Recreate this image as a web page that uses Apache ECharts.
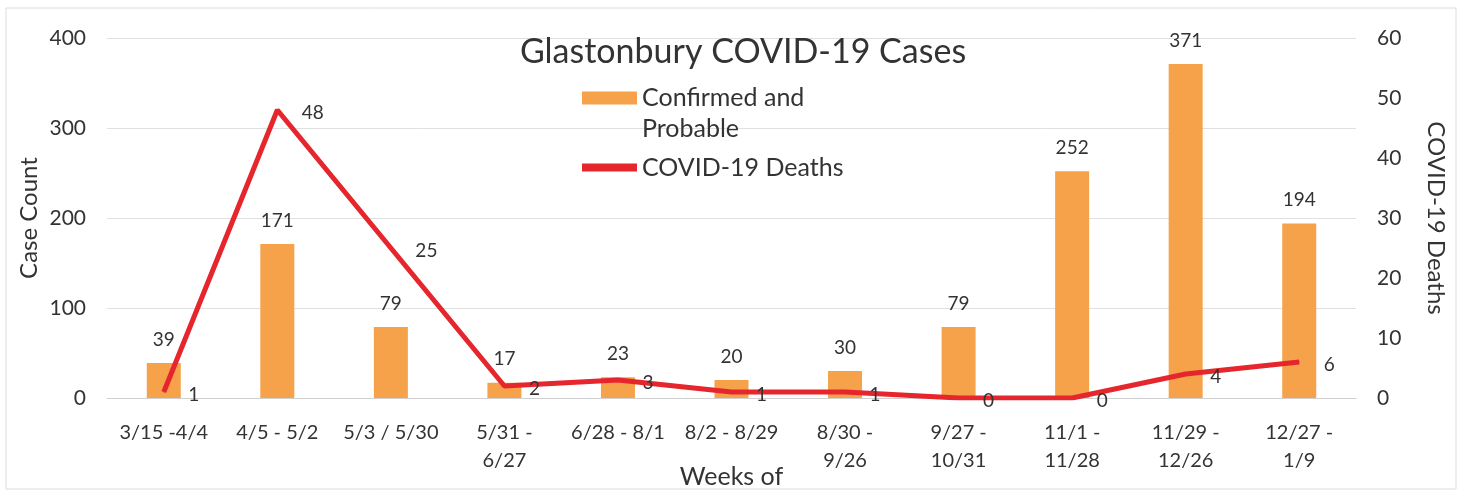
<!DOCTYPE html>
<html><head><meta charset="utf-8">
<script src="https://cdn.jsdelivr.net/npm/echarts@6/dist/echarts.min.js"></script>
<style>html,body{margin:0;padding:0;background:#fff}#c{width:1463px;height:494px}</style>
</head><body><div id="c"></div>
<script>
const categories = ["3/15 -4/4","4/5 - 5/2","5/3 / 5/30","5/31 -\n6/27","6/28 - 8/1","8/2 - 8/29","8/30 -\n9/26","9/27 -\n10/31","11/1 -\n11/28","11/29 -\n12/26","12/27 -\n1/9"];
const cases = [39,171,79,17,23,20,30,79,252,371,194];
const deaths = [1,48,25,2,3,1,1,0,0,4,6];
const caseTicks = {min:0,max:400,interval:100};
const deathTicks = {min:0,max:60,interval:10};
const font = 'Lato, "Open Sans", sans-serif';
const txt = '#333';
const chart = echarts.init(document.getElementById('c'));
chart.setOption({
  animation:false,
  textStyle:{fontFamily:font},
  graphic:[{type:'rect',shape:{x:6,y:8,width:1450,height:481},style:{fill:'none',stroke:'#dcdcdc',lineWidth:1},silent:true}],
  title:{text:'Glastonbury COVID-19 Cases',left:738,top:30,textAlign:'center',textStyle:{fontFamily:font,fontSize:34,fontWeight:'normal',color:txt}},
  legend:[
    {orient:'vertical',left:577,top:77,itemWidth:55,itemHeight:62,
     textStyle:{fontFamily:font,fontSize:25,color:txt,lineHeight:31},
     data:[{name:'Confirmed and\nProbable',icon:'path://M0,9.5 L55,9.5 L55,22.5 L0,22.5 Z M0,0 L0.05,0 L0,0.05 Z M55,62 L54.95,62 L55,61.95 Z'}]},
    {orient:'vertical',left:577,top:147,itemWidth:55,itemHeight:8,
     textStyle:{fontFamily:font,fontSize:25,color:txt,lineHeight:31},
     data:[{name:'COVID-19 Deaths',icon:'rect'}]}
  ],
  grid:{left:107,right:107,top:38,bottom:96,outerBoundsMode:'none'},
  xAxis:{type:'category',data:categories,name:'Weeks of',nameLocation:'middle',nameGap:66,nameMoveOverlap:false,
    nameTextStyle:{fontFamily:font,fontSize:25,color:txt},
    axisLine:{lineStyle:{color:'#d0d0d0'}},axisTick:{show:false},
    axisLabel:{interval:0,fontSize:20,color:txt,fontFamily:font,margin:21,lineHeight:28}},
  yAxis:[
    Object.assign({type:'value',name:'Case Count',nameLocation:'middle',nameGap:66,nameMoveOverlap:false,
     nameTextStyle:{fontFamily:font,fontSize:24,color:txt},
     axisLabel:{fontSize:21,color:txt,fontFamily:font,margin:21},
     splitLine:{lineStyle:{color:'#e0e0e0'}},axisLine:{show:false},axisTick:{show:false}},caseTicks),
    Object.assign({type:'value',name:'COVID-19 Deaths',nameLocation:'middle',nameGap:68,nameRotate:-90,nameMoveOverlap:false,
     nameTextStyle:{fontFamily:font,fontSize:24,color:txt},
     axisLabel:{fontSize:21,color:txt,fontFamily:font,margin:21},
     splitLine:{show:false},axisLine:{show:false},axisTick:{show:false}},deathTicks)
  ],
  series:[
    {name:'Confirmed and\nProbable',type:'bar',data:cases,barWidth:34,yAxisIndex:0,
     itemStyle:{color:'#f5a24a'},
     label:{show:true,position:'top',distance:14,fontSize:19,color:txt,fontFamily:font}},
    {name:'COVID-19 Deaths',type:'line',data:deaths,yAxisIndex:1,symbol:'circle',symbolSize:1,showSymbol:true,
     lineStyle:{color:'#e6262d',width:5},itemStyle:{color:'#e6262d'},
     label:{show:true,position:'right',distance:24,offset:[0,3],fontSize:19,color:txt,fontFamily:font}}
  ]
});
</script></body></html>
